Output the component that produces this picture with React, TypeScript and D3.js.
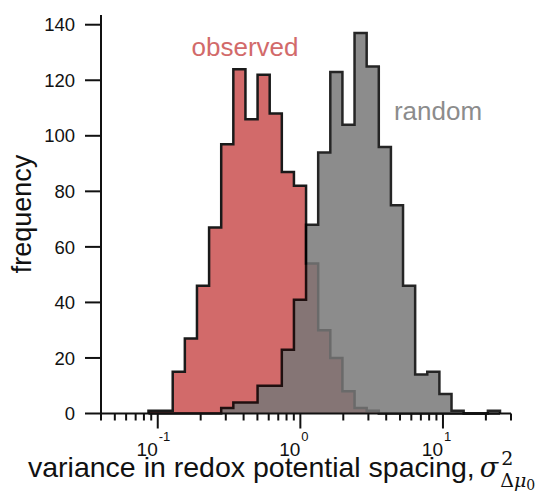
import React, { useEffect, useRef } from 'react';
import * as d3 from 'd3';

// histogram bins (log10 spaced, shared by both series)
const binLogStart = -1.065;
const binLogStep = 0.085;
const observedCounts = [1, 1, 15, 27, 46, 67, 97, 124, 106, 122, 108, 87, 82, 54, 30, 20, 8, 2, 1, 0, 0, 0, 0, 0, 0, 0, 0, 0, 0];
const randomCounts = [0, 0, 0, 0, 0, 0, 2, 4, 4, 10, 10, 23, 41, 68, 94, 123, 104, 137, 125, 96, 75, 46, 14, 15, 7, 1, 0, 0, 1];
const yTicks = [0, 20, 40, 60, 80, 100, 120, 140];
const xMajorTicks = [0.1, 1, 10];
const xTickExponents = ['-1', '0', '1'];
const xDomain = [0.04, 30];
const yMax = 143.5;

const SANS = "'Liberation Sans', Arial, Helvetica, sans-serif";
const SERIF = "'DejaVu Serif', serif";

export default function App() {
  const svgRef = useRef<SVGSVGElement>(null);

  useEffect(() => {
    if (!svgRef.current) return;
    const svg = d3.select(svgRef.current);
    const width = 541;
    const height = 502;
    const margin = { top: 15, right: 30, bottom: 88.5, left: 101 };

    svg.selectAll('*').remove();
    svg.attr('width', width).attr('height', height).attr('viewBox', [0, 0, width, height]);

    const x = d3.scaleLog().domain(xDomain).range([margin.left, width - margin.right]);
    const y = d3.scaleLinear().domain([0, yMax]).range([height - margin.bottom, margin.top]);

    const edges = d3.range(observedCounts.length + 1).map(i => Math.pow(10, binLogStart + i * binLogStep));

    const stepPoints = (counts: number[]) => {
      const pts: [number, number][] = [[edges[0], 0]];
      counts.forEach((c, i) => pts.push([edges[i], c]));
      pts.push([edges[counts.length], counts[counts.length - 1]]);
      pts.push([edges[counts.length], 0]);
      return pts;
    };

    const area = d3.area<[number, number]>()
      .x(d => x(d[0]))
      .y0(y(0))
      .y1(d => y(d[1]))
      .curve(d3.curveStepAfter);
    const line = d3.line<[number, number]>()
      .x(d => x(d[0]))
      .y(d => y(d[1]))
      .curve(d3.curveStepAfter);

    // observed (drawn first)
    const obs = stepPoints(observedCounts);
    svg.append('path').attr('d', area(obs) as string).attr('fill', '#d26a6a');
    svg.append('path').attr('d', line(obs) as string)
      .attr('fill', 'none').attr('stroke', '#1a1a1a').attr('stroke-width', 2.5)
      .attr('stroke-linejoin', 'miter');

    // random (semi transparent, on top)
    const rnd = stepPoints(randomCounts);
    const g = svg.append('g').attr('opacity', 0.85);
    g.append('path').attr('d', area(rnd) as string).attr('fill', '#787878');
    g.append('path').attr('d', line(rnd) as string)
      .attr('fill', 'none').attr('stroke', '#000').attr('stroke-width', 2.5)
      .attr('stroke-linejoin', 'miter');

    // axes
    const axisColor = '#111';
    const x0 = margin.left;
    const yBase = y(0);
    svg.append('line').attr('x1', x0).attr('x2', x0).attr('y1', margin.top).attr('y2', yBase + 1)
      .attr('stroke', axisColor).attr('stroke-width', 2);
    svg.append('line').attr('x1', x0 - 1).attr('x2', width - margin.right).attr('y1', yBase).attr('y2', yBase)
      .attr('stroke', axisColor).attr('stroke-width', 2);

    // y ticks
    yTicks.forEach(t => {
      svg.append('line').attr('x1', x0 - 16).attr('x2', x0).attr('y1', y(t)).attr('y2', y(t))
        .attr('stroke', axisColor).attr('stroke-width', 2);
      svg.append('text').attr('x', x0 - 26).attr('y', y(t)).attr('dy', '0.36em')
        .attr('text-anchor', 'end').attr('font-family', SANS).attr('font-size', 18.5).attr('fill', '#111')
        .text(String(t));
    });

    // x ticks: minor + major
    const minor: number[] = [];
    for (let e = -2; e <= 1; e++) {
      for (let m = 2; m <= 9; m++) {
        const v = m * Math.pow(10, e);
        if (v >= xDomain[0] - 1e-9 && v <= xDomain[1] + 1e-9) minor.push(v);
      }
    }
    minor.forEach(v => {
      svg.append('line').attr('x1', x(v)).attr('x2', x(v)).attr('y1', yBase).attr('y2', yBase + 7)
        .attr('stroke', axisColor).attr('stroke-width', 2);
    });
    xMajorTicks.forEach((v, i) => {
      svg.append('line').attr('x1', x(v)).attr('x2', x(v)).attr('y1', yBase).attr('y2', yBase + 15)
        .attr('stroke', axisColor).attr('stroke-width', 2);
      svg.append('text').attr('x', x(v)).attr('y', 456)
        .attr('text-anchor', 'end').attr('font-family', SANS).attr('font-size', 19).attr('fill', '#111')
        .text('10');
      svg.append('text').attr('x', x(v) + 1).attr('y', 441)
        .attr('text-anchor', 'start').attr('font-family', SANS).attr('font-size', 13).attr('fill', '#111')
        .text(xTickExponents[i]);
    });

    // y label
    svg.append('text')
      .attr('transform', `translate(31,214) rotate(-90)`)
      .attr('text-anchor', 'middle').attr('font-family', SANS).attr('font-size', 27).attr('fill', '#111')
      .text('frequency');

    // x label with math
    const xl = svg.append('text').attr('x', 28).attr('y', 477)
      .attr('font-family', SANS).attr('font-size', 28.5).attr('fill', '#111');
    xl.append('tspan').text('variance in redox potential spacing,');
    xl.append('tspan').attr('font-family', SERIF).attr('font-style', 'italic').attr('font-size', 27).attr('dx', 5).text('σ');
    const sup = xl.append('tspan').attr('font-family', SERIF).attr('font-size', 19).attr('dx', 3).attr('dy', -12).text('2');
    const supW = (sup.node() as SVGTSpanElement).getComputedTextLength();
    xl.append('tspan').attr('font-family', SERIF).attr('font-size', 19).attr('dx', -supW - 1).attr('dy', 22).text('Δ');
    xl.append('tspan').attr('font-family', SERIF).attr('font-style', 'italic').attr('font-size', 19).text('μ');
    xl.append('tspan').attr('font-family', SERIF).attr('font-size', 14).attr('dy', 3).text('0');

    // annotations
    svg.append('text').attr('x', 245).attr('y', 56).attr('text-anchor', 'middle')
      .attr('font-family', SANS).attr('font-size', 26).attr('fill', '#d26a6a').text('observed');
    svg.append('text').attr('x', 438).attr('y', 120).attr('text-anchor', 'middle')
      .attr('font-family', SANS).attr('font-size', 26).attr('fill', '#8c8c8c').text('random');
  }, []);

  return (
    <div style={{ position: 'absolute', left: 0, top: 0 }}>
      <svg ref={svgRef} style={{ display: 'block' }} />
    </div>
  );
}
